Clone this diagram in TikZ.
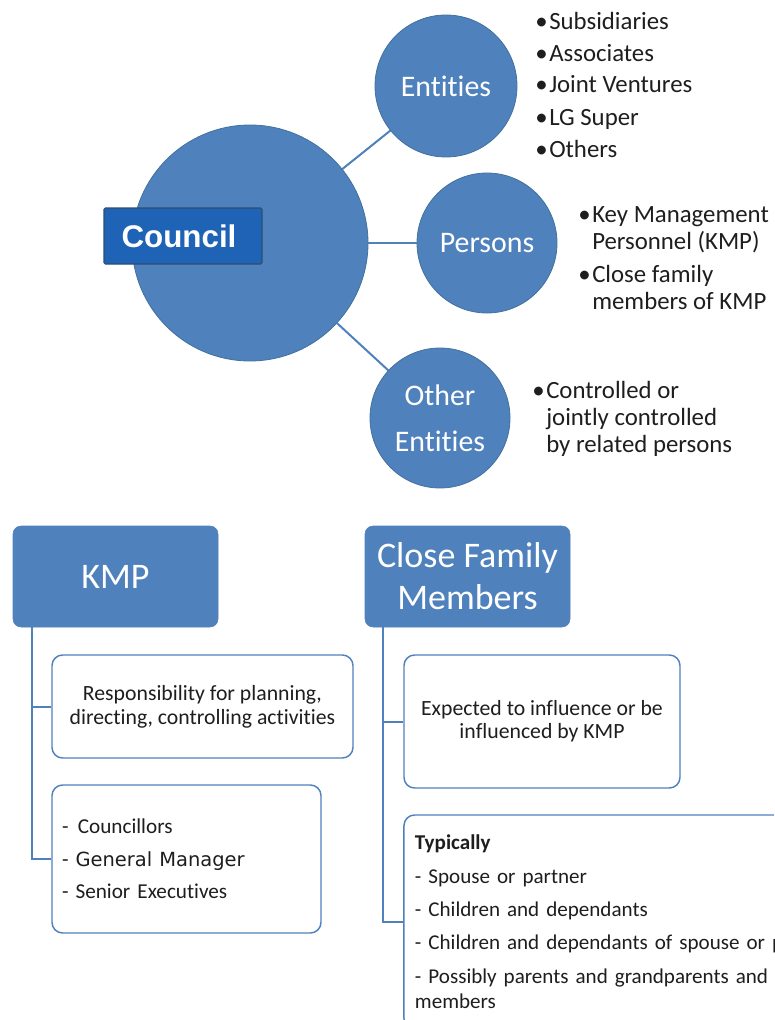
\documentclass[tikz,border=0pt]{standalone}
\usepackage{fontspec}
\setmainfont{Carlito}[Ligatures=NoCommon]
\newfontfamily\arialfont{Liberation Sans}
\newfontfamily\verdanafont{DejaVu Sans}
\usetikzlibrary{positioning}
\definecolor{nodeblue}{HTML}{4F81BD}
\definecolor{edgeblue}{HTML}{41719C}
\definecolor{councilblue}{HTML}{1F63B6}
\definecolor{textgray}{HTML}{1E1E1E}
\tikzstyle{bignode} = [circle, fill=nodeblue, draw=edgeblue, line width=0.6pt, text=white, inner sep=0pt]
\tikzstyle{namebox} = [rectangle, fill=councilblue, draw=edgeblue!70!black, line width=0.8pt, rounded corners=1pt, text=white, font=\arialfont\bfseries\fontsize{23.5}{26}\selectfont]
\tikzstyle{headbox} = [rectangle, rounded corners=6pt, fill=nodeblue, draw=nodeblue, text=white, align=center, minimum width=153.75pt, minimum height=75.75pt, font=\fontsize{27}{31.5}\selectfont]
\tikzstyle{itembox} = [rectangle, rounded corners=8pt, fill=white, draw=nodeblue, line width=1.1pt, text=textgray, font=\fontsize{16.3}{18}\selectfont]
\tikzstyle{blist} = [anchor=base west, align=left, inner sep=0pt, text=textgray, font=\fontsize{18.6}{20}\selectfont]
\tikzstyle{line} = [draw=nodeblue, line width=1.5pt]
\newcommand{\bul}{\makebox[10.5pt][l]{\textbullet}}
\newcommand{\hang}{\hspace*{10.5pt}}

\begin{document}
\begin{tikzpicture}[x=0.75pt, y=-0.75pt]
\useasboundingbox (0,0) rectangle (774,1020);
\clip (0,0) rectangle (774,1020);

% council and its related parties
\node [bignode, minimum size=177pt] (council) at (250, 243) {};
\node [bignode, minimum size=106.5pt, font=\fontsize{22.4}{26}\selectfont] (ent) at (446, 86) {Entities};
\node [bignode, minimum size=105pt, font=\fontsize{22.4}{26}\selectfont] (pers) at (487, 243) {Persons};
\node [bignode, minimum size=105pt, align=center, font=\fontsize{22.4}{34.5}\selectfont] (oth) at (440, 418) {Other\\Entities};
\node [namebox, minimum width=118.5pt, minimum height=42pt] (name) at (183, 236) {Council\hspace*{6pt}};

\path [line] (council) -- (ent);
\path [line] (council) -- (pers);
\path [line] (council) -- (oth);

% lists, placed by the baseline of their last line
\node [blist] (entlist) at (535, 157) {\bul Subsidiaries\\[4pt] \bul Associates\\[4pt] \bul Joint Ventures\\[4pt] \bul LG Super\\[4pt] \bul Others};
\node [blist] (perslist) at (578, 309) {\bul Key Management\\ \hang Personnel (KMP)\\[5pt] \bul Close family\\ \hang members of KMP};
\node [blist] (othlist) at (532, 452) {\bul Controlled or\\ \hang jointly controlled\\ \hang by related persons};

% KMP branch
\node [headbox] (kmp) at (115.5, 576.5) {KMP};
\node [itembox, minimum width=225.75pt, minimum height=77.25pt, align=center] (resp) at (202.5, 706.5) {Responsibility for planning,\\directing, controlling activities};
\node [itembox, minimum height=111pt, text width=186.75pt, inner xsep=7.5pt, align=left, font=\fontsize{15.9}{19}\selectfont] (roles) at (186.5, 859) {-\hspace{7pt}Councillors\\[6pt] - {\verdanafont\fontsize{14.6}{19}\selectfont General Manager}\\[5pt] - Senior Executives};

\draw [line] (kmp.south west) ++(19,0) |- (resp.west);
\draw [line] (kmp.south west) ++(19,0) |- (roles.west);

% close family branch
\node [headbox] (cfm) at (467.5, 576.5) {Close Family\\Members};
\node [itembox, minimum width=207pt, minimum height=99.75pt, align=center, font=\fontsize{16.3}{17.5}\selectfont] (infl) at (542, 721.5) {Expected to influence or be\\influenced by KMP};
\node [itembox, minimum height=160.5pt, text width=560pt, inner xsep=8.25pt, align=left, font=\fontsize{15.8}{19}\selectfont] (typ) at (788.3, 922) {\textbf{Typically}\\[6pt] - Spouse or partner\\[6pt] - Children and dependants\\[6pt] - Children and dependants of spouse or partner\\[6pt] - Possibly parents and grandparents and\\members};

\draw [line] (cfm.south west) ++(18,0) |- (infl.west);
\draw [line] (cfm.south west) ++(18,0) |- (typ.west);
\end{tikzpicture}
\end{document}
